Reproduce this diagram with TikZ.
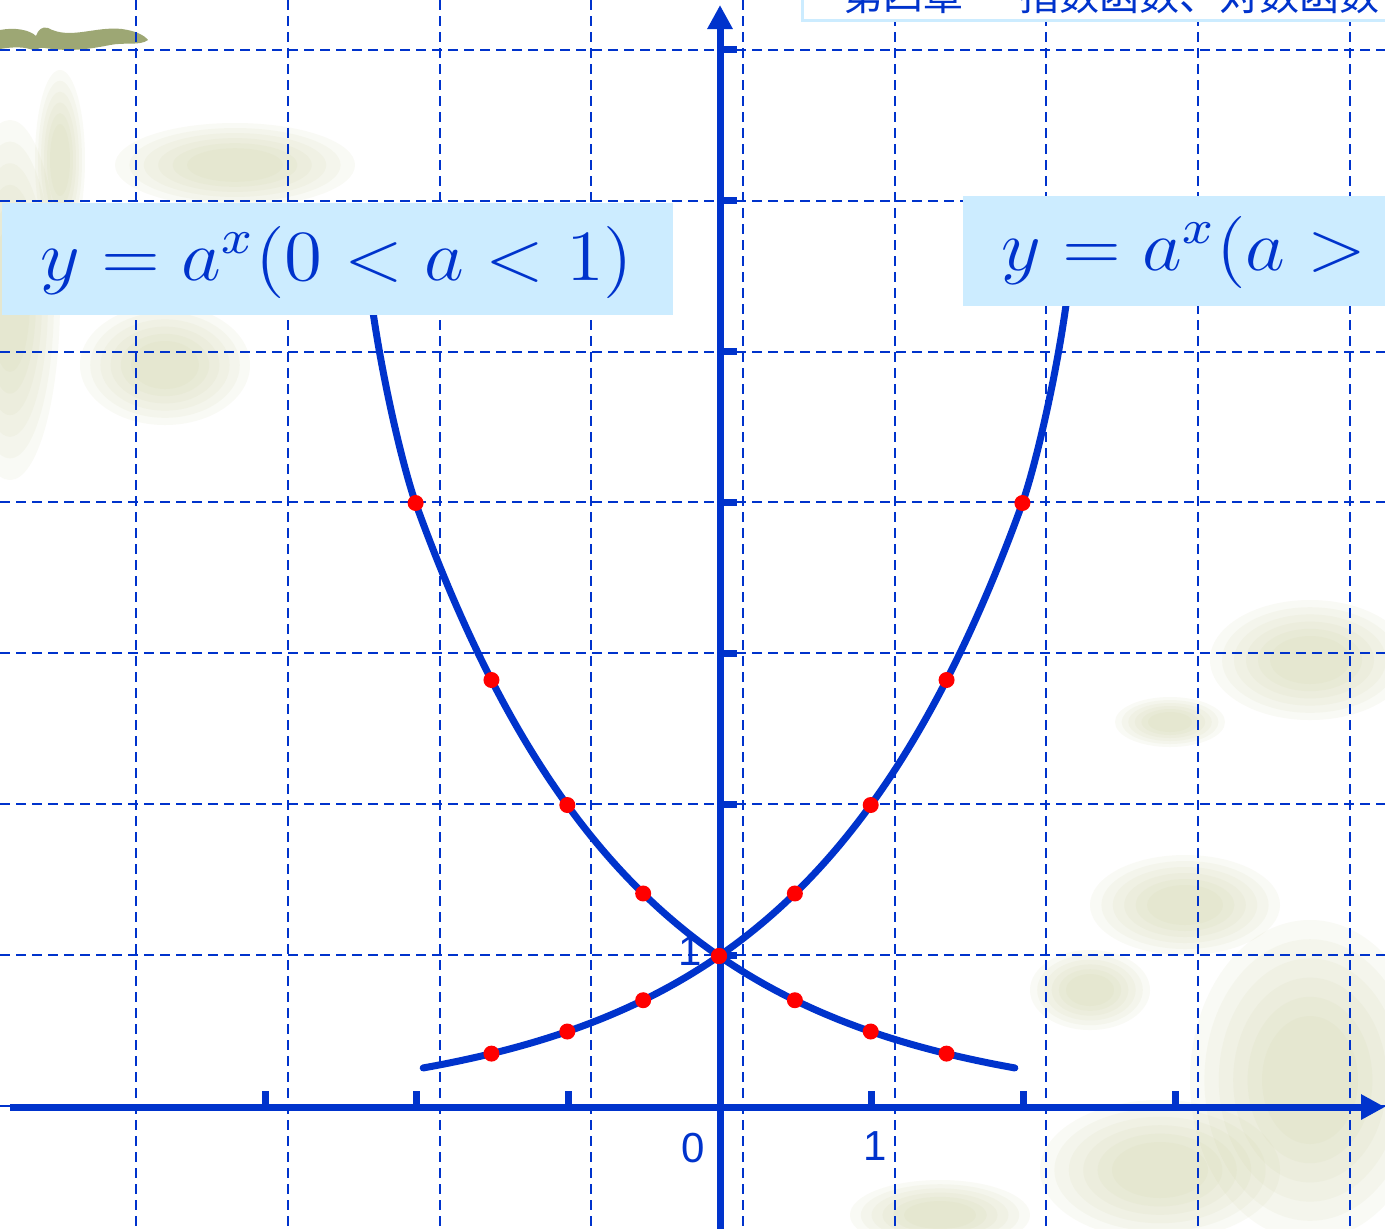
\documentclass[tikz,border=0pt]{standalone}
\usepackage{fontspec}
\newfontfamily\cjk{Noto Sans CJK SC}
\newfontfamily\arialfont{Liberation Sans}
\usetikzlibrary{arrows.meta}
\definecolor{axisblue}{RGB}{0,51,204}
\definecolor{boxblue}{RGB}{204,236,255}
\definecolor{leaf}{RGB}{208,210,165}
\definecolor{brushgreen}{RGB}{140,152,92}
\definecolor{dotred}{RGB}{255,0,0}
\newcommand{\softblob}[4]{%
  \foreach \s in {1.0,0.88,0.76,0.64,0.52,0.40}{%
    \fill[leaf, opacity=0.11] (#1,#2) ellipse [x radius=\s*#3, y radius=\s*#4];}}
\tikzset{
  gridline/.style={axisblue, line width=1pt, dash pattern=on 5pt off 3pt},
  axisline/.style={axisblue, line width=3.5pt, -{Triangle[length=12pt,width=12pt]}},
  tickmark/.style={axisblue, line width=3.5pt},
  curveline/.style={axisblue, line width=3.5pt, line cap=round},
  reddot/.style={fill=dotred},
  labelbox/.style={fill=boxblue, inner sep=0pt, draw=none},
  labeltext/.style={text=axisblue, inner sep=0pt, font=\fontsize{12}{14}\selectfont, xscale=3.22, yscale=3},
  numlabel/.style={text=axisblue, inner sep=0pt, font=\arialfont\fontsize{21}{24}\selectfont},
}
\begin{document}
\begin{tikzpicture}[x=0.5pt,y=-0.5pt]
\useasboundingbox (0,0) rectangle (1385,1228);
\fill[white] (0,0) rectangle (1385,1228);
% background leaves (faint)
\softblob{235}{165}{120}{42}
\softblob{10}{300}{50}{180}
\softblob{165}{365}{85}{60}
\softblob{60}{160}{25}{90}
\softblob{1310}{660}{100}{60}
\softblob{1170}{722}{55}{25}
\softblob{1185}{905}{95}{50}
\softblob{1090}{990}{60}{40}
\softblob{1310}{1080}{120}{160}
\softblob{1160}{1170}{120}{70}
\softblob{940}{1215}{90}{35}
\fill[brushgreen, opacity=0.85] (0,30) .. controls (15,27) and (30,30) .. (36,36) .. controls (38,30) and (42,26) .. (48,28) .. controls (70,40) and (95,26) .. (122,29) .. controls (136,31) and (144,35) .. (148,40) .. controls (140,46) and (125,42) .. (110,45) .. controls (90,49) and (70,52) .. (45,48) .. controls (40,47) and (37,49) .. (35,51) .. controls (25,46) and (12,47) .. (0,49) -- cycle;
% grid
\foreach \gx in {136.2,287.9,439.6,591.3,743,894.7,1046.4,1198.1,1349.8}{
  \draw[gridline] (\gx,0) -- (\gx,1228);}
\foreach \gy in {49.7,200.6,351.5,502.4,653.3,804.2,955.1,1106}{
  \draw[gridline] (0,\gy) -- (1385,\gy);}
% y label 1 (behind curves)
\node[numlabel] (ylab1) at (690,951) {1};
% axes
\coordinate (xstart) at (10,1107);
\coordinate (xend) at (1385,1107);
\coordinate (ystart) at (720,1240);
\coordinate (yend) at (720,5);
\draw[axisline] (xstart) -- (xend);
\draw[axisline] (ystart) -- (yend);
\foreach \tx in {265,416.6,568.3,871.7,1023.4,1175}{
  \draw[tickmark] (\tx,1107) -- (\tx,1091);}
\foreach \ty in {49.7,200.6,351.5,502.4,653.3,804.2,955.1}{
  \draw[tickmark] (720,\ty) -- (737,\ty);}
\node[numlabel] (xlab0) at (693,1148) {0};
\node[numlabel] (xlab1) at (875,1146) {1};
% curves: y = 2^x and y = (1/2)^x, extended steeply under the labels
\draw[curveline] plot[domain=-1.95:2, samples=90, smooth] ({719+151.7*\x},{1107-151*pow(2,\x)})
  .. controls (1036,464) and (1058,370) .. (1068,290);
\draw[curveline] plot[domain=-1.95:2, samples=90, smooth] ({719-151.7*\x},{1107-151*pow(2,\x)})
  .. controls (402,464) and (380,370) .. (370,290);
% dots
\foreach \t in {-1.5,-1,-0.5,0,0.5,1,1.5,2}{
  \fill[reddot] ({719+151.7*\t},{1107-151*pow(2,\t)}) circle [radius=8];
  \fill[reddot] ({719-151.7*\t},{1107-151*pow(2,\t)}) circle [radius=8];}
% label boxes
\node[labelbox, minimum width=335.5pt, minimum height=56pt] (boxL) at (337.5,259) {};
\node[labeltext, anchor=base west] (txtL) at (39,280) {$y=a^x(0<a<1)$};
\node[labelbox, minimum width=243.5pt, minimum height=55pt] (boxR) at (1206.5,251) {};
\node[labeltext, anchor=base west] (txtR) at (1000,270) {$y=a^x(a>1)$};
% top title box
\node[draw=boxblue, fill=white, line width=1.5pt, minimum width=330pt, minimum height=40pt, inner sep=0pt] (topbox) at (1132,-20) {};
\node[text=axisblue, anchor=base west, inner sep=0pt, font=\cjk\fontsize{20}{24}\selectfont] (title) at (843,10) {第四章\hspace{1.4em}指数函数、对数函数};
\end{tikzpicture}
\end{document}
